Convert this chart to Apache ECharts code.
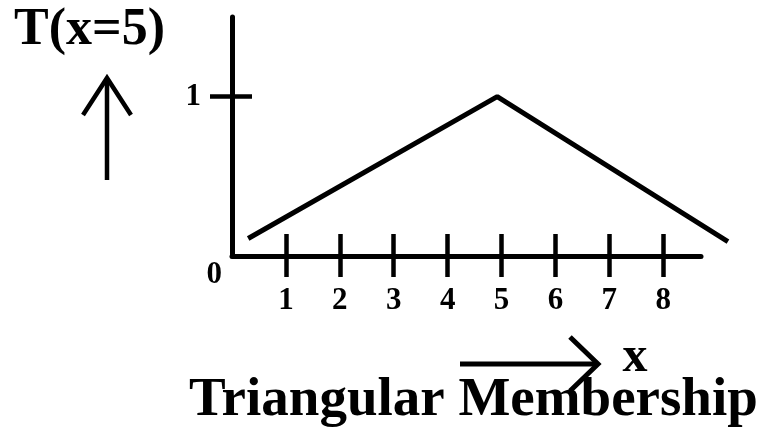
<!DOCTYPE html>
<html>
<head>
<meta charset="utf-8">
<script src="https://cdn.jsdelivr.net/npm/echarts@6/dist/echarts.min.js"></script>
<style>
  html, body { margin: 0; padding: 0; background: #fff; }
  #chart { width: 759px; height: 429px; }
</style>
</head>
<body>
<div id="chart"></div>
<script>
// 数据
var xTicks = [1, 2, 3, 4, 5, 6, 7, 8];
var yTicks = [0, 1];
var memberX = [0.3, 4.92, 9.2];
var memberY = [0.11, 1, 0.09];

var serif = '"Liberation Serif", "DejaVu Serif", serif';

(function () {
  var myChart = echarts.init(document.getElementById('chart'));

  var points = memberX.map(function (x, i) { return [x, memberY[i]]; });

  var tickStyle = { color: '#000', width: 4.5 };
  // 每个单位约 53.9px，折线所在网格比坐标轴宽一点
  var unit = 469 / 8.7;

  var option = {
    backgroundColor: '#fff',
    animation: false,
    grid: [
      { left: 232, top: 17, width: 469, height: 239 },
      { left: 232, top: 17, width: unit * 9.6, height: 239 }
    ],
    xAxis: [
      {
        type: 'value', min: 0, max: 8.7, position: 'bottom', gridIndex: 0,
        axisLine: { show: true, lineStyle: { color: '#000', width: 5 } },
        axisTick: { show: true, inside: false, length: 21, lineStyle: tickStyle, customValues: xTicks },
        axisLabel: {
          show: true, customValues: xTicks, margin: 29,
          color: '#000', fontFamily: serif, fontWeight: 'bold', fontSize: 31
        },
        splitLine: { show: false }
      },
      {
        // 轴上方那半截刻度
        type: 'value', min: 0, max: 8.7, position: 'bottom', gridIndex: 0,
        axisLine: { show: false },
        axisTick: { show: true, inside: true, length: 22, lineStyle: tickStyle, customValues: xTicks },
        axisLabel: { show: false },
        splitLine: { show: false }
      },
      {
        type: 'value', min: 0, max: 9.6, gridIndex: 1, show: false
      }
    ],
    yAxis: [
      {
        type: 'value', min: 0, max: 1.5, position: 'left', gridIndex: 0,
        axisLine: { show: true, lineStyle: { color: '#000', width: 5 } },
        axisTick: { show: true, inside: false, length: 22, lineStyle: tickStyle, customValues: [1] },
        axisLabel: {
          show: true, customValues: yTicks, margin: 10,
          formatter: function (v) { return v === 0 ? '{z|' + v + '}' : '{o|' + v + '}'; },
          rich: {
            z: { color: '#000', fontFamily: serif, fontWeight: 'bold', fontSize: 31, padding: [38, 0, 0, 0] },
            o: { color: '#000', fontFamily: serif, fontWeight: 'bold', fontSize: 31, padding: [0, 21, 0, 0] }
          }
        },
        splitLine: { show: false }
      },
      {
        type: 'value', min: 0, max: 1.5, position: 'left', gridIndex: 0,
        axisLine: { show: false },
        axisTick: { show: true, inside: true, length: 20, lineStyle: tickStyle, customValues: [1] },
        axisLabel: { show: false },
        splitLine: { show: false }
      },
      {
        type: 'value', min: 0, max: 1.5, gridIndex: 1, show: false
      }
    ],
    graphic: [
      { type: 'text', left: 14, top: 5, style: { text: 'T(x=5)', fill: '#000', font: 'bold 52px ' + serif } },
      { type: 'polyline', shape: { points: [[107, 180], [107, 78]] }, style: { stroke: '#000', lineWidth: 4.5, fill: null } },
      { type: 'polyline', shape: { points: [[83, 115], [107, 78], [131, 115]] }, style: { stroke: '#000', lineWidth: 4.5, fill: null } },
      { type: 'polyline', shape: { points: [[460, 364], [598, 364]] }, style: { stroke: '#000', lineWidth: 5, fill: null } },
      { type: 'polyline', shape: { points: [[570, 337], [598, 364], [570, 391]] }, style: { stroke: '#000', lineWidth: 5, fill: null } },
      { type: 'text', x: 635, y: 358, style: { text: 'x', fill: '#000', font: 'bold 50px ' + serif, align: 'center', verticalAlign: 'middle' } },
      { type: 'text', x: 189, y: 401, style: { text: 'Triangular Membership', fill: '#000', font: 'bold 55px ' + serif, align: 'left', verticalAlign: 'middle' } }
    ],
    series: [
      {
        type: 'line',
        xAxisIndex: 2,
        yAxisIndex: 2,
        data: points,
        symbol: 'none',
        lineStyle: { color: '#000', width: 5 }
      }
    ]
  };

  myChart.setOption(option);

  window.addEventListener('resize', function () {
    myChart.resize();
  });
})();
</script>
</body>
</html>
